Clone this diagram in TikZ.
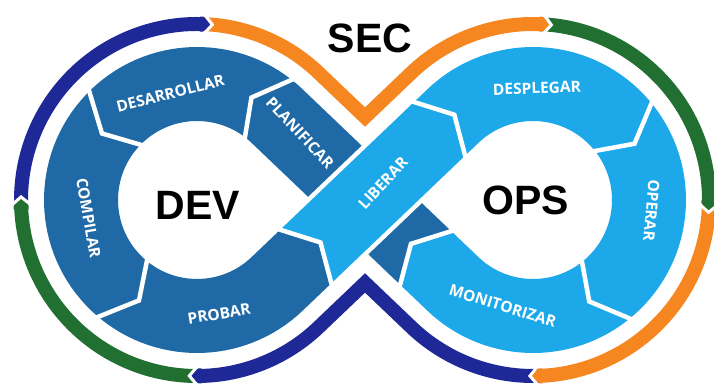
\documentclass[tikz,border=0pt]{standalone}
\usepackage{fontspec}
\setmainfont{Open Sans}
\newfontfamily\headfont{Liberation Sans}
\usetikzlibrary{calc}

\definecolor{devblue}{HTML}{1F6AA6}
\definecolor{opsblue}{HTML}{1DA9E9}
\definecolor{ringnavy}{HTML}{1E2896}
\definecolor{ringgreen}{HTML}{226F32}
\definecolor{ringorange}{HTML}{F6861F}

\tikzset{
  band/.style={line width=74pt},
  ring/.style={line width=14pt},
  gap/.style={white, line width=4.5pt},
  steplabel/.style={text=white, font=\bfseries\fontsize{15.5}{15.5}\selectfont},
  bigword/.style={font=\headfont\bfseries\fontsize{41}{41}\selectfont},
}

% tip of a ring piece: centre, angle of the joint, angle of the tip, colour
\newcommand{\ringtip}[4]{%
  \fill[#4] ($(#1)+({#2+1}:168.5)$) -- ($(#1)+(#2:168.5)$) -- ($(#1)+(#3:176)$)
    -- ($(#1)+(#2:183.5)$) -- ($(#1)+({#2+1}:183.5)$) -- cycle;
  \draw[white, line width=3pt] ($(#1)+(#2:165)$) -- ($(#1)+(#3:176)$) -- ($(#1)+(#2:187)$);}

\begin{document}
\begin{tikzpicture}[x=1pt,y=1pt]
  \useasboundingbox (0,0) rectangle (714,385);

  \def\rc{116}
  \def\ri{75}
  \def\ro{157}
  \def\rr{176}
  \def\tang{46.33}
  \def\dir{43.67}

  \coordinate (L) at (197,185);
  \coordinate (R) at (533,185);
  \coordinate (M) at (365,185);

  % tangent points of the crossing
  \coordinate (TL1) at ($(L)+(\tang:\rc)$);
  \coordinate (TL2) at ($(L)+(-\tang:\rc)$);
  \coordinate (TR1) at ($(R)+({180-\tang}:\rc)$);
  \coordinate (TR2) at ($(R)+({\tang-180}:\rc)$);

  % joints on the diagonals
  \coordinate (A) at ($(TR2)+({180-\dir}:36)$);
  \coordinate (A0) at ($(TR2)+({180-\dir}:33)$);
  \coordinate (Atip) at ($(TR2)+({180-\dir}:58)$);
  \coordinate (B) at ($(TL2)+(\dir:38)$);
  \coordinate (B0) at ($(TL2)+(\dir:35)$);
  \coordinate (Btip) at ($(TL2)+(\dir:60)$);
  \coordinate (C) at ($(TL2)+(\dir:223)$);
  \coordinate (Ctip) at ($(TL2)+(\dir:245)$);

  % outer ring
  \draw[ring, ringnavy] ($(L)+(182:\rr)$) arc[start angle=182, end angle=88, radius=\rr];
  \draw[ring, ringorange, line join=miter] ($(L)+(88:\rr)$) arc[start angle=88, end angle=\tang, radius=\rr]
    -- ($(M)+(0,{60/cos(\dir)})$) -- ($(R)+({180-\tang}:\rr)$) arc[start angle={180-\tang}, end angle=87, radius=\rr];
  \draw[ring, ringgreen] ($(R)+(87:\rr)$) arc[start angle=87, end angle=-1, radius=\rr];
  \draw[ring, ringorange] ($(R)+(-1:\rr)$) arc[start angle=-1, end angle=-88, radius=\rr];
  \draw[ring, ringnavy, line join=miter] ($(R)+(-88:\rr)$) arc[start angle=-88, end angle={\tang-180}, radius=\rr]
    -- ($(M)-(0,{60/cos(\dir)})$) -- ($(L)+(-\tang:\rr)$) arc[start angle=-\tang, end angle=-89.5, radius=\rr];
  \draw[ring, ringgreen] ($(L)+(270.5:\rr)$) arc[start angle=270.5, end angle=182, radius=\rr];

  \ringtip{L}{182}{179}{ringgreen}
  \ringtip{L}{88}{85}{ringnavy}
  \ringtip{R}{87}{84}{ringorange}
  \ringtip{R}{-1}{-4}{ringgreen}
  \ringtip{R}{-88}{-91}{ringorange}
  \ringtip{L}{-89.5}{-92.5}{ringnavy}

  % dev loop, then ops loop on top
  \draw[band, devblue] (A) -- (TL1) arc[start angle=\tang, end angle={360-\tang}, radius=\rc] -- (B);
  \draw[white, line width=83pt] (B) -- (TR1);
  \draw[band, opsblue] (B) -- (TR1) arc[start angle={180-\tang}, end angle={\tang-180}, radius=\rc] -- (A);

  % tips where the colour changes
  \fill[devblue] ($(B0)+({\dir+90}:37)$) -- ($(B)+({\dir+90}:37)$) -- (Btip)
    -- ($(B)+({\dir-90}:37)$) -- ($(B0)+({\dir-90}:37)$) -- cycle;
  \fill[opsblue] ($(A0)+({90-\dir}:37)$) -- ($(A)+({90-\dir}:37)$) -- (Atip)
    -- ($(A)+({270-\dir}:37)$) -- ($(A0)+({270-\dir}:37)$) -- cycle;

  % gaps between the steps
  \draw[gap] ($(B)+({\dir+90}:40)$) -- (Btip) -- ($(B)+({\dir-90}:40)$);
  \draw[gap] ($(A)+({90-\dir}:40)$) -- (Atip) -- ($(A)+({270-\dir}:40)$);
  \draw[gap] ($(C)+({\dir+90}:40)$) -- (Ctip) -- ($(C)+({\dir-90}:40)$);
  \draw[gap] ($(L)+(51:\ri)$) -- ($(L)+(62:\rc)$) -- ($(L)+(51:\ro)$);
  \draw[gap] ($(L)+(134:\ri)$) -- ($(L)+(145:\rc)$) -- ($(L)+(134:\ro)$);
  \draw[gap] ($(L)+(229:\ri)$) -- ($(L)+(240:\rc)$) -- ($(L)+(229:\ro)$);
  \draw[gap] ($(R)+(40:\ri)$) -- ($(R)+(29:\rc)$) -- ($(R)+(40:\ro)$);
  \draw[gap] ($(R)+(-50:\ri)$) -- ($(R)+(-61:\rc)$) -- ($(R)+(-50:\ro)$);

  % step labels
  \node[steplabel, rotate=14] (desarrollar) at ($(L)+(104:110)$) {DESARROLLAR};
  \node[steplabel, rotate=-80] (compilar) at ($(L)+(189.5:110)$) {COMPILAR};
  \node[steplabel, rotate=9] (probar) at ($(L)+(-79:116)$) {PROBAR};
  \node[steplabel, rotate=-47] (planificar) at (300,252) {PLANIFICAR};
  \node[steplabel, rotate=47] (liberar) at (383,202) {LIBERAR};
  \node[steplabel, rotate=2] (desplegar) at ($(R)+(88:112)$) {DESPLEGAR};
  \node[steplabel, rotate=-95] (operar) at ($(R)+(-5:119)$) {OPERAR};
  \node[steplabel, rotate=-17] (monitorizar) at ($(R)+(-106:110)$) {MONITORIZAR};

  \node[bigword] (dev) at (198,180) {DEV};
  \node[bigword] (ops) at (526,185) {OPS};
  \node[bigword] (sec) at (370,347) {SEC};

\end{tikzpicture}
\end{document}
